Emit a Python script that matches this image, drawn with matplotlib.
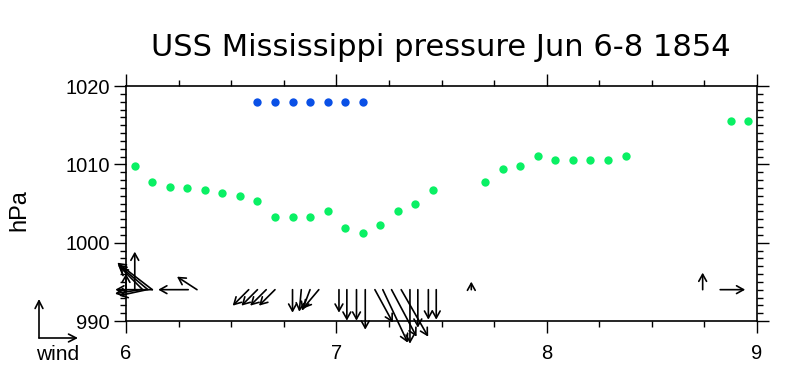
import matplotlib
matplotlib.use('Agg')
import matplotlib.pyplot as plt
from matplotlib.ticker import MultipleLocator
import numpy as np

# hours after Jun 6 00:00
pressure_hours = [1, 3, 5, 7, 9, 11, 13, 15, 17, 19, 21, 23, 25, 27, 29, 31, 33, 35,
                  41, 43, 45, 47, 49, 51, 53, 55, 57, 69, 71]
pressure_hpa = [1009.8, 1007.8, 1007.1, 1007.0, 1006.7, 1006.4, 1006.0, 1005.3,
                1003.3, 1003.3, 1003.3, 1004.0, 1001.9, 1001.2, 1002.3, 1004.0,
                1005.0, 1006.7, 1007.7, 1009.4, 1009.8, 1011.1, 1010.5, 1010.5,
                1010.5, 1010.5, 1011.1, 1015.5, 1015.5]

flag_hours = [15, 17, 19, 21, 23, 25, 27]
flag_hpa = [1018, 1018, 1018, 1018, 1018, 1018, 1018]

# wind vectors (drawn in pixels, tail anchored at wind_base)
wind_base = 994
wind_hours = [0.0, 1.0, 1.9, 2.5, 3.0, 3.0, 1.6, 2.4, 7.1, 8.1,
              14, 15, 16, 17,
              19, 20, 21, 22,
              24.3, 25.2, 26.3, 27.3,
              28.4, 29.3, 30.3, 31.4, 32.4, 33.3, 34.5, 35.4,
              39.4, 65.8, 67.8]
wind_u = [0, 0, -23, -30, -35, -37, -25, -28, -30, -20,
          -16, -16, -16, -16,
          0, -2, -8, -16,
          0, 0, 0, 0,
          18, 25, 25, 27, 0, 0, 0, 0,
          0, 0, 25]
wind_v = [16, 38, 23, 25, 27, 0, -4, -6, 0, 13,
          -16, -16, -16, -16,
          -23, -22, -21, -19,
          -23, -31, -31, -40,
          -33, -53, -47, -47, -54, -38, -30, -30,
          8, 17, 0]

green = '#0AF064'
blue = '#0A50E6'
plt.rcParams['font.family'] = ['Liberation Sans', 'DejaVu Sans']

fig = plt.figure(figsize=(7.95, 3.89), dpi=100)
ax = fig.add_axes([0.1585, 0.1748, 0.7937, 0.6041])

px = 6 + np.array(pressure_hours) / 24
ax.plot(px, pressure_hpa, 'o', color=green, ms=6, mec='none')
fx = 6 + np.array(flag_hours) / 24
ax.plot(fx, flag_hpa, 'o', color=blue, ms=6, mec='none')

wx = 6 + np.array(wind_hours) / 24
for x, u, v in zip(wx, wind_u, wind_v):
    ax.annotate('', xy=(x, wind_base), xytext=(u, v), textcoords='offset pixels',
                arrowprops=dict(arrowstyle='<-, head_length=0.5, head_width=0.28',
                                lw=1.2, color='black', shrinkA=0, shrinkB=0),
                annotation_clip=False)

ax.set_xlim(6, 9)
ax.set_ylim(990, 1020)
ax.xaxis.set_major_locator(MultipleLocator(1))
ax.xaxis.set_minor_locator(MultipleLocator(0.25))
ax.yaxis.set_major_locator(MultipleLocator(10))
ax.yaxis.set_minor_locator(MultipleLocator(1))
ax.tick_params(which='both', direction='out', top=True, right=True, width=1.0)
ax.tick_params(which='major', length=8.5, labelsize=14.5, pad=3)
ax.tick_params(axis='x', which='major', pad=8)
ax.tick_params(which='minor', length=4)
for s in ax.spines.values():
    s.set_linewidth(1.2)

ax.set_ylabel('hPa', fontsize=17)
ax.yaxis.set_label_coords(-0.152, 0.47)

fig.text(0.554, 1 - 47 / 389, 'USS Mississippi pressure Jun 6-8 1854',
         ha='center', va='center', fontsize=22, family='DejaVu Sans')

# wind key
key = dict(arrowstyle='->, head_length=0.55, head_width=0.28', lw=1.2,
           color='black', shrinkA=0, shrinkB=0)
ax.annotate('', xy=(39, 90), xytext=(39, 51), xycoords='figure pixels',
            textcoords='figure pixels', arrowprops=key, annotation_clip=False)
ax.annotate('', xy=(78, 51), xytext=(39, 51), xycoords='figure pixels',
            textcoords='figure pixels', arrowprops=key, annotation_clip=False)
fig.text(58 / 795, 34 / 389, 'wind', ha='center', va='center', fontsize=15)

fig.savefig('out.png', dpi=100)
